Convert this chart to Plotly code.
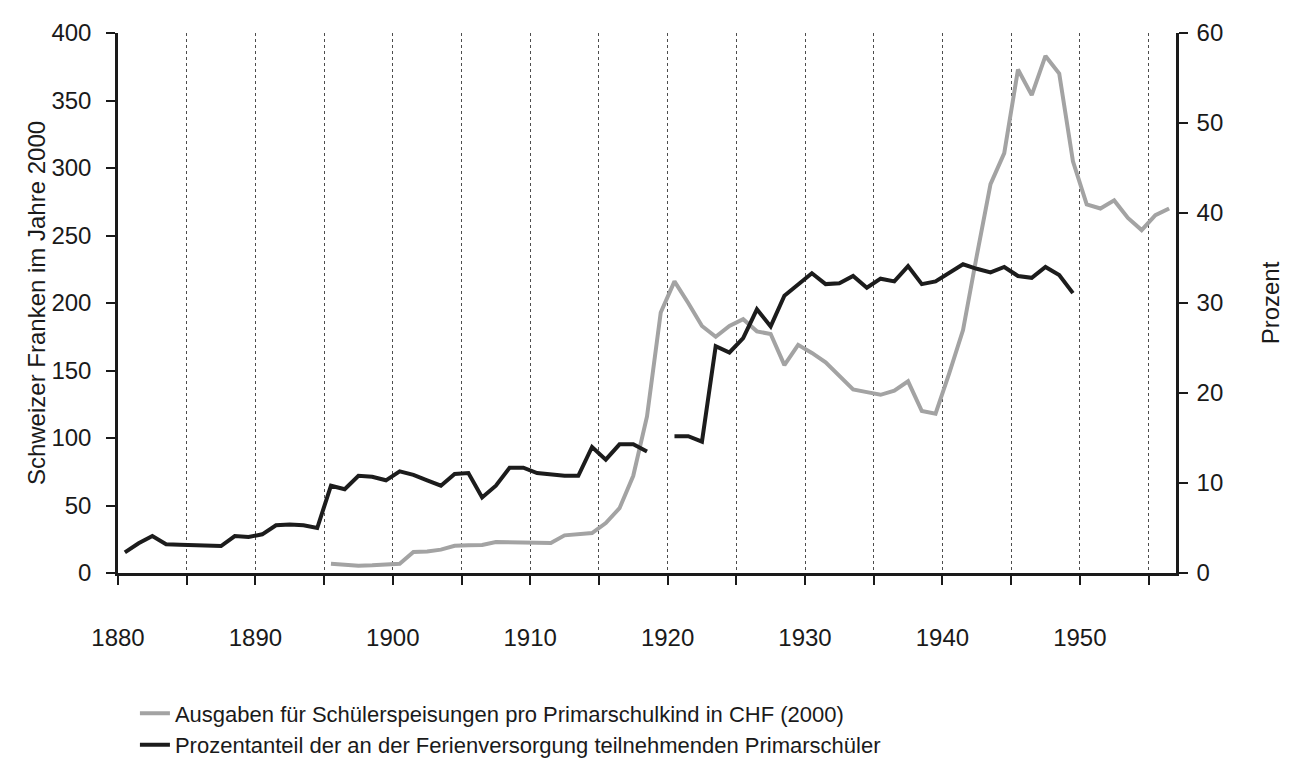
import plotly.graph_objects as go

# ---- data -------------------------------------------------------------
years_black = list(range(1880, 1950))
pct_ferien = [2.3, 3.3, 4.1, 3.2, 3.15, 3.1, 3.05, 3.0, 4.1, 4.0,
              4.3, 5.3, 5.4, 5.3, 5.0, 9.7, 9.3, 10.8, 10.7, 10.3,
              11.3, 10.9, 10.3, 9.7, 11.0, 11.1, 8.4, 9.7, 11.7, 11.7,
              11.1, 10.9, 10.8, 10.8, 14.0, 12.6, 14.3, 14.3, 13.5, None,
              15.2, 15.2, 14.6, 25.2, 24.5, 26.1, 29.3, 27.4, 30.8, 32.0,
              33.3, 32.1, 32.2, 33.0, 31.7, 32.7, 32.4, 34.1, 32.1, 32.4,
              33.3, 34.3, 33.8, 33.4, 34.0, 33.0, 32.8, 34.0, 33.1, 31.1]

years_gray = list(range(1895, 1957))
chf_speisung = [6.9, 6.0, 5.4, 5.7, 6.5, 6.9, 15.6, 16.0, 17.3, 20.2,
                20.5, 20.8, 23.0, 22.7, 22.2, 22.2, 22.2, 27.9, 28.4, 29.6,
                37, 48, 72, 116, 193, 216, 200, 183, 175, 183,
                188, 179, 177, 154, 169, 163, 156, 146, 136, 134,
                132, 135, 142, 120, 118, 148, 180, 235, 288, 311,
                373, 354, 383, 370, 305, 273, 270, 276, 263, 254,
                265, 270]

tick_years = list(range(1880, 1960, 5))
tick_labels = [str(y) if y % 10 == 0 and y <= 1950 else "" for y in tick_years]
left_ticks = list(range(0, 401, 50))
right_ticks = list(range(0, 61, 10))

name_gray = "Ausgaben für Schülerspeisungen pro Primarschulkind in CHF (2000)"
name_black = "Prozentanteil der an der Ferienversorgung teilnehmenden Primarschüler"

# values are annual figures drawn at mid-year
mid = 0.5

fig = go.Figure()
fig.add_trace(go.Scatter(
    x=[y + mid for y in years_gray], y=chf_speisung, name=name_gray,
    mode="lines", line=dict(color="#a3a3a3", width=4), yaxis="y"))
fig.add_trace(go.Scatter(
    x=[y + mid for y in years_black], y=pct_ferien, name=name_black,
    mode="lines", line=dict(color="#1c1c1c", width=4), yaxis="y2",
    connectgaps=False))

FAM = "Liberation Sans, Arial, sans-serif"
tick_font = dict(family=FAM, size=24, color="#1a1a1a")
title_font = dict(family=FAM, size=24, color="#1a1a1a")

fig.update_layout(
    width=1295, height=763,
    paper_bgcolor="white", plot_bgcolor="white",
    margin=dict(l=110, r=127, t=25, b=198, autoexpand=False),
    font=dict(family=FAM, color="#1a1a1a"),
    showlegend=True,
    legend=dict(x=0.016, xanchor="left", yref="container", y=0.103, yanchor="top",
                orientation="v", font=dict(family=FAM, size=22, color="#1a1a1a"),
                bgcolor="rgba(0,0,0,0)"),
    xaxis=dict(range=[1880, 1957], tickvals=tick_years, ticktext=tick_labels,
               showgrid=True, gridcolor="#4d4d4d", griddash="3px,3px", gridwidth=1,
               showline=True, linecolor="#1a1a1a", linewidth=2.5,
               ticks="outside", ticklen=9, tickwidth=2, tickcolor="#1a1a1a",
               zeroline=False, tickfont=tick_font, ticklabelstandoff=32,
               automargin=False),
    yaxis=dict(range=[0, 400], tickvals=left_ticks, showgrid=False,
               showline=True, linecolor="#1a1a1a", linewidth=2.5,
               ticks="outside", ticklen=9, tickwidth=2, tickcolor="#1a1a1a",
               zeroline=False, tickfont=tick_font, ticklabelstandoff=10,
               automargin=False,
               title=dict(text="Schweizer Franken im Jahre 2000", standoff=0,
                          font=title_font)),
    yaxis2=dict(range=[0, 60], tickvals=right_ticks, overlaying="y", side="right",
                showgrid=False, showline=True, linecolor="#1a1a1a", linewidth=2.5,
                ticks="outside", ticklen=9, tickwidth=2, tickcolor="#1a1a1a",
                zeroline=False, tickfont=tick_font, ticklabelstandoff=4,
                automargin=False,
                title=dict(text="Prozent", standoff=40, font=title_font)),
)

fig.write_html("out.html")
